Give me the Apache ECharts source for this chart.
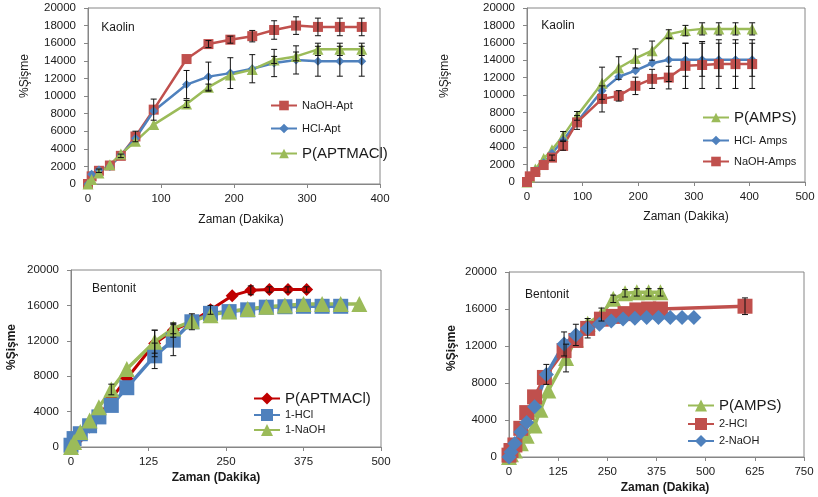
<!DOCTYPE html>
<html>
<head>
<meta charset="utf-8">
<script src="https://cdn.jsdelivr.net/npm/echarts@6/dist/echarts.min.js"></script>
<style>
  html, body { margin: 0; padding: 0; background: #fff; }
  #chart { width: 818px; height: 497px; }
</style>
</head>
<body>
<div id="chart"></div>
<script>
// ---- Kaolin / APTMACl (top left)
var tKaolinApt = [0, 5, 15, 30, 45, 65, 90, 135, 165, 195, 225, 255, 285, 315, 345, 375];
var naohApt = [0, 870, 1500, 2100, 3200, 5400, 8450, 14200, 15900, 16400, 16800, 17500, 18000, 17850, 17850, 17850];
var hclApt = [0, 1100, 1600, 2000, 3300, 5200, 8300, 11300, 12200, 12600, 13100, 13750, 14100, 13950, 13950, 13950];
var pAptmacl = [0, 500, 1250, 2200, 3400, 4850, 6750, 9100, 11000, 12400, 13000, 14100, 14500, 15300, 15300, 15300];
var naohAptErr = [0, 0, 200, 0, 200, 600, 1200, 0, 400, 400, 650, 1050, 1000, 1000, 1000, 1000];
var hclAptErr = [0, 0, 0, 0, 0, 0, 0, 1600, 1650, 1750, 1600, 1550, 1600, 1700, 1700, 1700];
var pAptmaclErr = [0, 0, 0, 0, 0, 0, 0, 400, 350, 0, 0, 400, 500, 700, 700, 700];

// ---- Kaolin / AMPS (top right)
var tKaolinAmps = [0, 5, 15, 30, 45, 65, 90, 135, 165, 195, 225, 255, 285, 315, 345, 375, 405];
var pAmps = [0, 580, 1500, 2700, 3700, 5300, 7600, 11350, 13100, 14200, 15100, 17000, 17400, 17600, 17600, 17600, 17600];
var hclAmps = [0, 580, 1300, 2200, 3300, 4800, 6900, 10500, 12100, 12800, 13650, 14050, 14050, 14050, 14050, 14050, 14050];
var naohAmps = [0, 650, 1150, 1950, 2800, 4150, 6850, 9550, 9900, 11050, 11850, 12000, 13350, 13450, 13550, 13550, 13550];
var pAmpsErr = [0, 0, 0, 0, 0, 500, 500, 1850, 1300, 1100, 1100, 500, 600, 700, 700, 700, 700];
var hclAmpsErr = [0, 0, 0, 0, 0, 0, 0, 0, 0, 0, 0, 2500, 1900, 1900, 1900, 1900, 1900];
var naohAmpsErr = [0, 0, 0, 0, 300, 500, 800, 1500, 600, 1000, 1100, 1300, 2600, 2700, 2800, 2800, 2800];

// ---- Bentonit / APTMACl (bottom left)
var tBentAptRed = [0, 5, 15, 30, 45, 65, 90, 135, 165, 195, 225, 260, 290, 320, 350, 380];
var pAptmaclB = [0, 570, 1130, 2260, 3400, 5470, 7740, 11700, 13200, 14150, 15500, 17100, 17700, 17800, 17800, 17800];
var pAptmaclBErr = [0, 0, 0, 0, 0, 0, 0, 1500, 800, 0, 500, 0, 500, 300, 300, 300];
var tBentAptBlue = [0, 5, 15, 30, 45, 65, 90, 135, 165, 195, 225, 255, 285, 315, 345, 375, 405, 435];
var hcl1 = [200, 950, 1500, 2400, 3400, 4700, 6700, 10300, 12070, 14150, 15100, 15300, 15500, 15800, 15850, 15900, 15900, 15900];
var hcl1Err = [0, 0, 0, 0, 0, 0, 0, 1440, 1750, 900, 0, 0, 0, 0, 0, 0, 0, 0];
var tBentAptGreen = [0, 5, 15, 30, 45, 65, 90, 135, 165, 195, 225, 255, 285, 315, 345, 375, 405, 435, 465];
var naoh1 = [0, 570, 1700, 3000, 4500, 6500, 8800, 11900, 13400, 14200, 14900, 15300, 15600, 15850, 16000, 16150, 16150, 16150, 16150];
var naoh1Err = [0, 0, 0, 0, 0, 600, 0, 1300, 600, 0, 0, 0, 0, 0, 0, 0, 0, 0, 0];

// ---- Bentonit / AMPS (bottom right)
var tBentAmpsGreen = [0, 5, 15, 30, 45, 65, 80, 100, 145, 170, 200, 235, 265, 295, 325, 355, 385];
var pAmpsB = [0, 300, 700, 1500, 2300, 3400, 5100, 7200, 10700, 12700, 14400, 15400, 17100, 17700, 17800, 17800, 17800];
var pAmpsBErr = [0, 0, 0, 0, 0, 0, 0, 0, 1500, 0, 0, 700, 400, 400, 400, 400, 400];
var tBentAmpsRed = [0, 5, 15, 30, 45, 65, 90, 140, 170, 200, 235, 265, 295, 325, 355, 385, 600];
var hcl2 = [200, 700, 1300, 3100, 4800, 6500, 8600, 11500, 12600, 13900, 14900, 15200, 15500, 15900, 16000, 16000, 16300];
var hcl2Err = [0, 0, 0, 0, 0, 0, 0, 0, 0, 0, 0, 0, 0, 0, 0, 0, 900];
var tBentAmpsBlue = [0, 5, 15, 30, 45, 65, 95, 140, 170, 200, 230, 260, 290, 320, 350, 380, 410, 440, 470];
var naoh2 = [0, 540, 1450, 2700, 3720, 5420, 8930, 12220, 13200, 13920, 14350, 14700, 14930, 15000, 15080, 15080, 15080, 15080, 15080];
var naoh2Err = [0, 0, 0, 0, 0, 0, 1080, 1300, 1150, 1050, 0, 0, 0, 0, 0, 0, 0, 0, 0];

var RED = '#C0504D', BLUE = '#4F81BD', GREEN = '#9BBB59', DARKRED = '#C00000';
var FONT = 'Liberation Sans, Arial, sans-serif';

var chart = echarts.init(document.getElementById('chart'));

function line(name, xs, ys, color, symbol, size, gi, lw) {
  return {
    type: 'line', name: name, xAxisIndex: gi, yAxisIndex: gi,
    data: xs.map(function (x, i) { return [x, ys[i]]; }),
    symbol: symbol, symbolSize: size,
    itemStyle: { color: color, borderWidth: 0 },
    lineStyle: { color: color, width: lw },
    emphasis: { disabled: true },
    animation: false
  };
}

function errBars(xs, ys, errs, gi) {
  var d = [];
  xs.forEach(function (x, i) {
    if (errs[i]) d.push([x, ys[i] - errs[i], ys[i] + errs[i]]);
  });
  return {
    type: 'custom', xAxisIndex: gi, yAxisIndex: gi, data: d, z: 5, silent: true,
    encode: { x: 0, y: [1, 2] },
    animation: false,
    renderItem: function (params, api) {
      var lo = api.coord([api.value(0), api.value(1)]);
      var hi = api.coord([api.value(0), api.value(2)]);
      var w = 3, st = { stroke: '#111', lineWidth: 1 };
      return {
        type: 'group', children: [
          { type: 'line', shape: { x1: lo[0], y1: lo[1], x2: hi[0], y2: hi[1] }, style: st },
          { type: 'line', shape: { x1: lo[0] - w, y1: lo[1], x2: lo[0] + w, y2: lo[1] }, style: st },
          { type: 'line', shape: { x1: hi[0] - w, y1: hi[1], x2: hi[0] + w, y2: hi[1] }, style: st }
        ]
      };
    }
  };
}

var grids = [
  { left: 88, top: 8, width: 292, height: 176 },
  { left: 527, top: 8, width: 278, height: 174 },
  { left: 71, top: 270, width: 310, height: 177 },
  { left: 509, top: 272, width: 295, height: 185 }
];
var xMax = [400, 500, 500, 750];
var xStep = [100, 100, 125, 125];
var yStep = [2000, 2000, 4000, 4000];

var axisCommon = {
  axisLine: { show: true, lineStyle: { color: '#868686' } },
  axisTick: { show: true, length: 4, lineStyle: { color: '#868686' } },
  splitLine: { show: false },
  axisLabel: { color: '#1a1a1a', fontSize: 11.5, fontFamily: FONT, formatter: function (v) { return String(v); } }
};

var xAxes = grids.map(function (g, i) {
  return Object.assign({}, axisCommon, {
    type: 'value', gridIndex: i, min: 0, max: xMax[i], interval: xStep[i],
    axisLabel: Object.assign({}, axisCommon.axisLabel, { margin: 9 })
  });
});
var yAxes = grids.map(function (g, i) {
  return Object.assign({}, axisCommon, {
    type: 'value', gridIndex: i, min: 0, max: 20000, interval: yStep[i],
    axisLabel: Object.assign({}, axisCommon.axisLabel, { margin: 12 })
  });
});

function strip(n) { return n.split('|')[1]; }
function legend(left, top, names, big, ih, gap) {
  return {
    left: left, top: top, orient: 'vertical', itemWidth: 26, itemHeight: ih, itemGap: gap,
    formatter: strip,
    textStyle: { color: '#1a1a1a', fontSize: 11, fontFamily: FONT },
    data: names.map(function (n, i) {
      return i === big ? { name: n, textStyle: { fontSize: 15 } } : { name: n };
    })
  };
}

function label(txt, x, y, bold, rot) {
  return {
    type: 'text', x: x, y: y, rotation: rot ? Math.PI / 2 : 0, silent: true,
    style: {
      text: txt, fill: '#1a1a1a', fontSize: 12, fontWeight: bold ? 'bold' : 'normal',
      fontFamily: FONT, textAlign: 'center', textVerticalAlign: 'middle'
    }
  };
}

var option = {
  backgroundColor: '#fff',
  animation: false,
  grid: grids.map(function (g) {
    return Object.assign({ show: true, borderColor: '#868686', borderWidth: 1, backgroundColor: 'transparent' }, g);
  }),
  xAxis: xAxes,
  yAxis: yAxes,
  legend: [
    legend(265, 95, ['1|NaOH-Apt', '1|HCl-Apt', '1|P(APTMACl)'], 2, 12, 12),
    legend(697, 105, ['2|P(AMPS)', '2|HCl- Amps', '2|NaOH-Amps'], 0, 12, 10),
    legend(248, 386, ['3|P(APTMACl)', '3|1-HCl', '3|1-NaOH'], 0, 15, 3),
    legend(682, 393, ['4|P(AMPS)', '4|2-HCl', '4|2-NaOH'], 0, 15, 5)
  ],
  graphic: [
    label('Kaolin', 118, 28, false), label('Kaolin', 558, 26, false),
    label('Bentonit', 114, 289, false), label('Bentonit', 547, 295, false),
    label('%Şişme', 25, 76, false, true), label('%Şişme', 445, 76, false, true),
    label('%Şişme', 12, 347, true, true), label('%Şişme', 452, 348, true, true),
    label('Zaman (Dakika)', 241, 220, false), label('Zaman (Dakika)', 686, 217, false),
    label('Zaman (Dakika)', 216, 478, true), label('Zaman (Dakika)', 665, 488, true)
  ],
  series: [
    // top left
    line('1|NaOH-Apt', tKaolinApt, naohApt, RED, 'rect', 10, 0, 2.5),
    line('1|HCl-Apt', tKaolinApt, hclApt, BLUE, 'diamond', 9, 0, 2.5),
    line('1|P(APTMACl)', tKaolinApt, pAptmacl, GREEN, 'triangle', 11, 0, 2.5),
    errBars(tKaolinApt, naohApt, naohAptErr, 0),
    errBars(tKaolinApt, hclApt, hclAptErr, 0),
    errBars(tKaolinApt, pAptmacl, pAptmaclErr, 0),
    // top right
    line('2|P(AMPS)', tKaolinAmps, pAmps, GREEN, 'triangle', 11, 1, 2.5),
    line('2|HCl- Amps', tKaolinAmps, hclAmps, BLUE, 'diamond', 9, 1, 2.5),
    line('2|NaOH-Amps', tKaolinAmps, naohAmps, RED, 'rect', 10, 1, 2.5),
    errBars(tKaolinAmps, pAmps, pAmpsErr, 1),
    errBars(tKaolinAmps, hclAmps, hclAmpsErr, 1),
    errBars(tKaolinAmps, naohAmps, naohAmpsErr, 1),
    // bottom left
    line('3|P(APTMACl)', tBentAptRed, pAptmaclB, DARKRED, 'diamond', 13, 2, 3),
    line('3|1-HCl', tBentAptBlue, hcl1, BLUE, 'rect', 15, 2, 3.5),
    line('3|1-NaOH', tBentAptGreen, naoh1, GREEN, 'triangle', 16, 2, 3.5),
    errBars(tBentAptRed, pAptmaclB, pAptmaclBErr, 2),
    errBars(tBentAptBlue, hcl1, hcl1Err, 2),
    errBars(tBentAptGreen, naoh1, naoh1Err, 2),
    // bottom right
    line('4|P(AMPS)', tBentAmpsGreen, pAmpsB, GREEN, 'triangle', 16, 3, 3.5),
    line('4|2-HCl', tBentAmpsRed, hcl2, RED, 'rect', 15, 3, 3.5),
    line('4|2-NaOH', tBentAmpsBlue, naoh2, BLUE, 'diamond', 15, 3, 3.5),
    errBars(tBentAmpsGreen, pAmpsB, pAmpsBErr, 3),
    errBars(tBentAmpsRed, hcl2, hcl2Err, 3),
    errBars(tBentAmpsBlue, naoh2, naoh2Err, 3)
  ]
};

chart.setOption(option);
</script>
</body>
</html>
